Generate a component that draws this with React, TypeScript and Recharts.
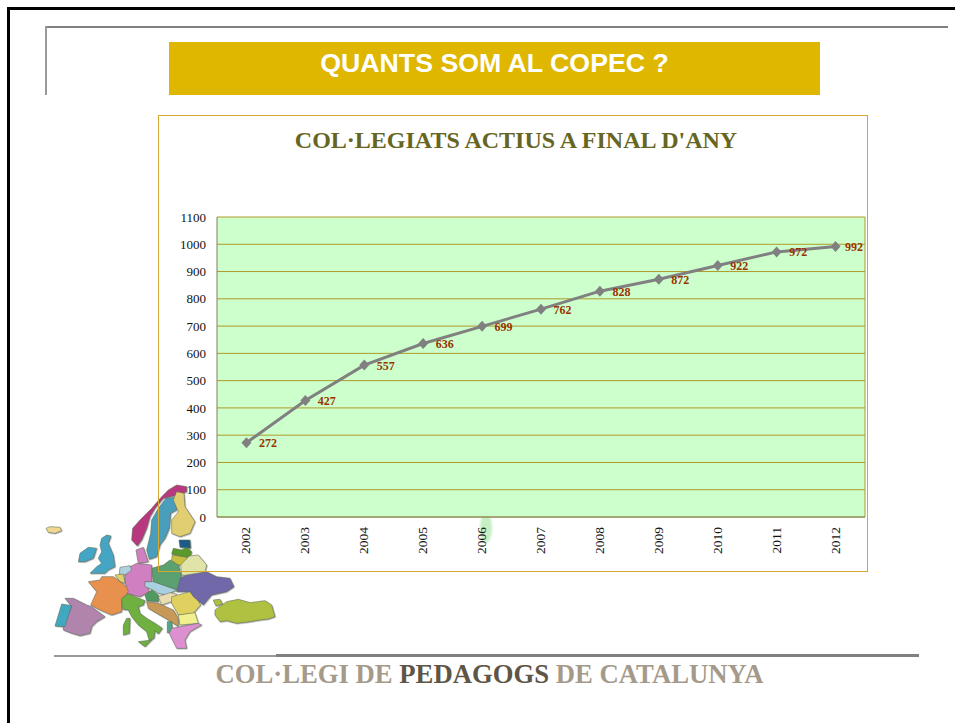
import { LineChart, Line, XAxis, YAxis, CartesianGrid, LabelList } from 'recharts';

const years = ['2002', '2003', '2004', '2005', '2006', '2007', '2008', '2009', '2010', '2011', '2012'];
const members = [272, 427, 557, 636, 699, 762, 828, 872, 922, 972, 992];
const yTicks = [0, 100, 200, 300, 400, 500, 600, 700, 800, 900, 1000, 1100];

const chartData = years.map((year, i) => ({ year, members: members[i] }));

// rough outline of the europe clip art, in pixels of a 3x crop
const mapShapes: [string, string][] = [
  ['#f0d890', '48,175 60,170 90,172 95,182 75,190 55,187'],
  ['#b8387f', '440,45 470,50 470,65 445,75 420,80 400,85 375,115 360,140 350,175 335,210 322,228 305,210 308,175 330,150 365,115 395,80 415,60'],
  ['#4a9fbb', '408,85 435,82 440,120 422,130 418,175 405,205 390,225 380,260 358,268 350,240 362,190 365,150 385,115'],
  ['#e0ce70', '440,65 462,70 465,110 495,155 480,190 450,200 425,190 425,150 445,125 430,90'],
  ['#1f5a88', '447,210 480,210 482,235 450,232'],
  ['#5a9a2a', '430,235 455,240 470,232 485,245 480,262 450,258 425,252'],
  ['#c8c040', '427,255 470,262 468,285 440,285 425,270'],
  ['#e0e4a8', '452,285 478,258 505,255 530,285 525,305 500,320 455,315'],
  ['#5aa070', '365,295 400,285 420,270 445,285 455,320 445,360 410,350 370,335'],
  ['#d080c0', '318,240 340,232 355,275 325,280'],
  ['#d080c0', '300,290 320,280 365,285 365,335 345,335 358,365 330,380 290,370 285,320'],
  ['#b0d0e0', '270,292 300,287 305,300 285,315 268,312'],
  ['#e0d070', '255,315 280,312 285,340 270,335'],
  ['#45a5c5', '230,195 243,198 235,220 250,255 255,290 235,300 225,310 180,310 200,290 215,280 205,265 215,245 210,225 215,205'],
  ['#45a5c5', '150,250 175,232 200,235 190,265 165,275 145,275'],
  ['#e8904e', '175,335 210,330 215,320 250,320 290,350 295,365 275,390 275,425 245,435 210,420 182,405 200,365'],
  ['#b084ac', '105,385 130,385 170,405 185,410 225,440 200,455 185,470 180,490 150,497 125,490 100,480 100,470 125,410'],
  ['#40a8c0', '95,402 125,407 105,470 75,468'],
  ['#70b040', '275,385 295,372 345,392 340,405 325,410 330,430 350,445 375,460 397,475 385,492 375,482 372,505 358,512 350,485 325,465 305,440 295,420 278,418'],
  ['#70b040', '290,445 300,445 298,490 280,495 280,465'],
  ['#70b040', '325,515 365,510 345,530'],
  ['#4f9a60', '345,375 365,360 385,375 385,395 350,392'],
  ['#a8d0e0', '345,335 370,335 440,360 410,375 385,370 365,358 345,350'],
  ['#e8dcb0', '385,380 420,368 440,372 425,395 395,405'],
  ['#e0d060', '425,380 480,365 500,385 512,405 490,430 445,435 425,400'],
  ['#f0f090', '445,435 495,428 505,460 450,465'],
  ['#c89858', '350,395 385,400 430,420 445,445 445,470 415,450 380,430 355,415'],
  ['#4fa88a', '412,455 425,455 428,485 412,488'],
  ['#dc90d0', '425,475 505,460 515,465 480,485 465,510 470,535 440,535 425,505 418,490'],
  ['#7068a8', '450,325 470,315 530,305 560,320 600,325 612,350 590,365 545,375 520,405 490,380 480,365 440,365'],
  ['#b0c040', '550,390 570,388 578,402 558,408'],
  ['#b0c040', '555,420 590,395 625,388 660,398 705,392 725,405 735,440 715,447 690,450 660,455 620,460 590,452 570,455 555,435'],
];

const serif = '"Liberation Serif", serif';

const box = (left: number, top: number, width: number, height: number, background: string) => (
  <div style={{ position: 'absolute', left, top, width, height, background }} />
);

const YearTick = ({ x, y, payload }: any) => (
  <text
    transform={`translate(${x + 4},${y + 2}) rotate(-90)`}
    textAnchor="end"
    fontSize={13.5}
    fontFamily={serif}
    fill="#111"
  >
    {payload.value}
  </text>
);

const Diamond = ({ cx, cy }: any) => (
  <polygon
    points={`${cx},${cy - 5.5} ${cx + 5},${cy} ${cx},${cy + 5.5} ${cx - 5},${cy}`}
    fill="#808080"
  />
);

const ValueLabel = ({ x, y, value }: any) => (
  <text x={Math.min(x + 12.5, 845)} y={y + 4.5} fontSize={12} fontWeight="bold" fontFamily={serif} fill="#993300">
    {value}
  </text>
);

export default function App() {
  return (
    <div style={{ position: 'absolute', left: 0, top: 0, width: 955, height: 723, background: '#fff', overflow: 'hidden' }}>
      {/* slide frame */}
      {box(7, 7, 948, 3, '#000')}
      {box(7, 7, 3, 716, '#000')}
      {box(45, 26, 903, 2, '#808080')}
      {box(45, 26, 2, 69, '#999')}

      {/* header */}
      <div
        style={{
          position: 'absolute',
          left: 169,
          top: 42,
          width: 651,
          height: 53,
          background: '#dfb700',
          color: '#fff',
          fontFamily: '"Liberation Sans", sans-serif',
          fontWeight: 'bold',
          fontSize: 26.7,
          lineHeight: '43px',
          textAlign: 'center',
          whiteSpace: 'pre',
        }}
      >
        QUANTS SOM AL COPEC ?
      </div>

      {/* map sits under the chart panel */}
      <svg width={955} height={723} style={{ position: 'absolute', left: 0, top: 0 }}>
        <defs>
          <filter id="mapShadow" x="-10%" y="-10%" width="120%" height="120%">
            <feGaussianBlur in="SourceGraphic" stdDeviation="0.4" result="soft" />
            <feDropShadow in="soft" dx="2" dy="2" stdDeviation="2" floodColor="#555" floodOpacity="0.6" />
          </filter>
          <filter id="blob">
            <feGaussianBlur stdDeviation="1.2" />
          </filter>
        </defs>
        <g transform="translate(30,470) scale(0.3333)" filter="url(#mapShadow)">
          {mapShapes.map(([color, points], i) => (
            <polygon key={i} points={points} fill={color} stroke="#5a6a50" strokeWidth={1.5} />
          ))}
        </g>
        <ellipse cx={486} cy={528} rx={6} ry={15} fill="#c4f0c4" filter="url(#blob)" />
      </svg>

      <div style={{ position: 'absolute', left: 158, top: 115, width: 708, height: 455, border: '1px solid #d4a830' }} />

      <div
        style={{
          position: 'absolute',
          left: 158,
          top: 125,
          width: 716,
          textAlign: 'center',
          fontFamily: serif,
          fontWeight: 'bold',
          fontSize: 24,
          lineHeight: '30px',
          color: '#666622',
          whiteSpace: 'pre',
        }}
      >
        COL·LEGIATS ACTIUS A FINAL D'ANY
      </div>

      <div style={{ position: 'absolute', left: 0, top: 0 }}>
        <LineChart
          width={955}
          height={723}
          data={chartData}
          margin={{ top: 217, right: 90, bottom: 146, left: 157 }}
        >
          <CartesianGrid
            fill="#ccffcc"
            stroke="#b09a2a"
            strokeWidth={1}
            verticalCoordinatesGenerator={({ offset }: any) => [offset.left + offset.width]}
          />
          <XAxis
            dataKey="year"
            scale="band"
            height={60}
            interval={0}
            tickLine={false}
            tick={<YearTick />}
            stroke="#808060"
          />
          <YAxis
            width={60}
            domain={[0, 1100]}
            ticks={yTicks}
            interval={0}
            tickLine={false}
            stroke="#808060"
            tick={{ fontSize: 13, fontFamily: serif, fill: '#111' }}
            tickMargin={5}
          />
          <Line
            dataKey="members"
            stroke="#808080"
            strokeWidth={3}
            dot={<Diamond />}
            isAnimationActive={false}
          >
            <LabelList dataKey="members" content={<ValueLabel />} />
          </Line>
        </LineChart>
      </div>

      {/* footer */}
      {box(54, 655, 222, 2, '#999')}
      {box(276, 654, 643, 3, '#808080')}
      <div
        style={{
          position: 'absolute',
          left: 0,
          top: 658,
          width: 979,
          textAlign: 'center',
          fontFamily: serif,
          fontWeight: 'bold',
          fontSize: 26.7,
          lineHeight: '32px',
          color: '#a59a8a',
          whiteSpace: 'pre',
        }}
      >
        COL·LEGI DE <span style={{ color: '#5f5545' }}>PEDAGOGS</span> DE CATALUNYA
      </div>
    </div>
  );
}
